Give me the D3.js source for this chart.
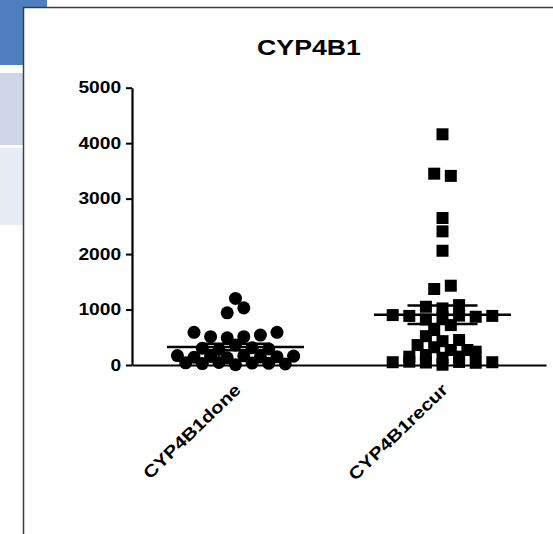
<!DOCTYPE html>
<html>
<head>
<meta charset="utf-8">
<script src="https://cdn.jsdelivr.net/npm/d3@7"></script>
<style>
  body { margin: 0; background: #fff; }
  svg { display: block; }
</style>
</head>
<body>
<script>
// Chart data
const categories = ["CYP4B1done", "CYP4B1recur"];
const doneValues = [1200, 940, 1030,
  590, 510, 490, 510, 540, 590,
  300, 280, 360, 310, 290,
  170, 140, 155, 130, 165, 145, 150, 160,
  40, 25, 45, 5, 35, 30, 20];
const recurValues = [4160, 3450, 3410, 2650, 2410, 2060, 1370, 1430,
  1050, 1020, 1080,
  900, 885, 820, 860, 890, 870, 885,
  630, 720,
  520, 430, 450,
  360, 320, 270, 270,
  150, 180, 130, 150, 240,
  50, 60, 45, 5, 55, 40, 50];
const yTicks = [0, 1000, 2000, 3000, 4000, 5000];
const titleText = "CYP4B1";

const width = 553;
const height = 534;
const font = "'Liberation Sans', Arial, Helvetica, sans-serif";
const stretch = 1.215; // the exported figure is a bit wider than tall

const svg = d3.select("body").append("svg")
  .attr("width", width)
  .attr("height", height);

// slide background bits on the left
svg.append("rect").attr("x", 0).attr("y", 0).attr("width", 47).attr("height", 65).attr("fill", "#4f7fbe");
svg.append("rect").attr("x", 0).attr("y", 73).attr("width", 24).attr("height", 72).attr("fill", "#cfd6e7");
svg.append("rect").attr("x", 0).attr("y", 148).attr("width", 24).attr("height", 77).attr("fill", "#e8ecf5");

// picture frame
svg.append("rect")
  .attr("x", 23.5).attr("y", 7.5)
  .attr("width", 600).attr("height", 600)
  .attr("fill", "#fff")
  .attr("stroke", "#3c3c3c")
  .attr("stroke-width", 1.5);

const y = d3.scaleLinear().domain([0, 5000]).range([365, 87.7]);
const x = d3.scalePoint().domain(categories).range([132, 546]).padding(0.5);

// title
svg.append("text")
  .attr("transform", `translate(309,55) scale(${stretch},1)`)
  .attr("text-anchor", "middle")
  .attr("font-family", font)
  .attr("font-weight", "bold")
  .attr("font-size", 22)
  .text(titleText);

// y axis
const yAxis = svg.append("g")
  .attr("transform", "translate(132,0)")
  .call(d3.axisLeft(y).tickValues(yTicks).tickSize(6).tickSizeOuter(0).tickPadding(3).tickFormat(d3.format("d")));
yAxis.select(".domain").attr("stroke", "#000").attr("stroke-width", 2.2);
yAxis.selectAll(".tick line").attr("stroke", "#000").attr("stroke-width", 2);
yAxis.selectAll(".tick text")
  .attr("fill", "#000")
  .attr("font-family", font)
  .attr("font-weight", "bold")
  .attr("font-size", 15.8)
  .attr("transform", `scale(${stretch},1)`);

// x axis
const xAxis = svg.append("g")
  .attr("transform", `translate(0,${y(0)})`)
  .call(d3.axisBottom(x).tickSize(0).tickSizeOuter(0));
xAxis.select(".domain").attr("stroke", "#000").attr("stroke-width", 2.2);
xAxis.selectAll(".tick text")
  .attr("fill", "#000")
  .attr("x", 0).attr("y", 0).attr("dy", null)
  .attr("text-anchor", "end")
  .attr("font-family", font)
  .attr("font-weight", "bold")
  .attr("font-size", 17)
  .attr("transform", "translate(6,26) rotate(-44) scale(1.2,1)");

// spread points that sit at about the same height into a row
function spread(values, rowPx, step) {
  const pts = values.map((v, i) => ({ v: v, i: i, py: y(v), dx: 0 }));
  const sorted = pts.slice().sort((a, b) => d3.descending(a.v, b.v));
  const rows = [];
  let cur = null;
  sorted.forEach(p => {
    if (!cur || p.py - cur.top > rowPx) {
      cur = { top: p.py, pts: [] };
      rows.push(cur);
    }
    cur.pts.push(p);
  });
  rows.forEach(r => {
    r.pts.sort((a, b) => a.i - b.i);
    const n = r.pts.length;
    r.pts.forEach((p, j) => { p.dx = (j - (n - 1) / 2) * step; });
  });
  return pts;
}

const series = [
  { name: categories[0], values: doneValues, symbol: d3.symbolCircle, area: 133 },
  { name: categories[1], values: recurValues, symbol: d3.symbolSquare, area: 144 }
];

series.forEach(s => {
  const cx = x(s.name);
  const pts = spread(s.values, 6.5, 16.6);

  svg.append("g").selectAll("path")
    .data(pts)
    .enter()
    .append("path")
    .attr("d", d3.symbol().type(s.symbol).size(s.area))
    .attr("transform", d => `translate(${cx + d.dx},${d.py})`)
    .attr("fill", "#000");

  // mean with SEM
  const mean = d3.mean(s.values);
  const sem = d3.deviation(s.values) / Math.sqrt(s.values.length);
  const g = svg.append("g").attr("stroke", "#000").attr("stroke-width", 2.5);
  g.append("line").attr("x1", cx - 68.5).attr("x2", cx + 68.5).attr("y1", y(mean)).attr("y2", y(mean));
  g.append("line").attr("x1", cx).attr("x2", cx).attr("y1", y(mean - sem)).attr("y2", y(mean + sem));
  g.append("line").attr("x1", cx - 35).attr("x2", cx + 35).attr("y1", y(mean + sem)).attr("y2", y(mean + sem));
  g.append("line").attr("x1", cx - 35).attr("x2", cx + 35).attr("y1", y(mean - sem)).attr("y2", y(mean - sem));
});
</script>
</body>
</html>
